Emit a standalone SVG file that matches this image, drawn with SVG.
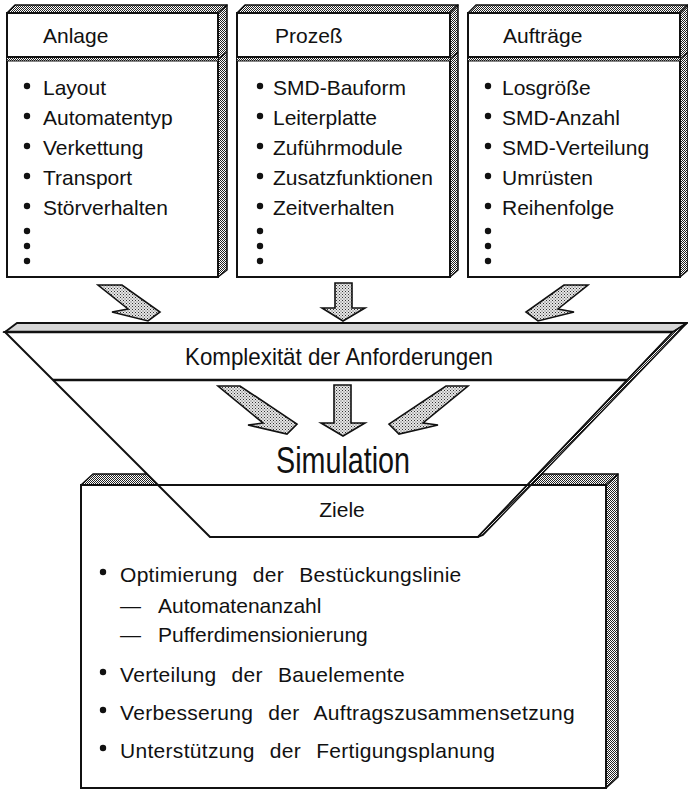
<svg xmlns="http://www.w3.org/2000/svg" width="688" height="790" viewBox="0 0 688 790">
<defs>
  <!-- dark halftone for the 3D side and top faces -->
  <pattern id="halftone" width="2" height="2" patternUnits="userSpaceOnUse">
    <rect width="2" height="2" fill="#fff"/>
    <rect width="1" height="1" fill="#222"/>
    <rect x="1" y="1" width="1" height="1" fill="#222"/>
  </pattern>
  <!-- light stipple for the block arrows -->
  <pattern id="stipple" width="3" height="3" patternUnits="userSpaceOnUse">
    <rect width="3" height="3" fill="#e6e6e6"/>
    <rect width="1" height="1" fill="#333"/>
    <rect x="1.5" y="1.5" width="1" height="1" fill="#555"/>
  </pattern>
</defs>
<style>
  text { font-family: "Liberation Sans", Arial, sans-serif; fill: #111; }
  .t { font-size: 21px; }
  .ws { word-spacing: 9px; letter-spacing: 0.3px; }
  .face { fill: #fff; stroke: #111; stroke-width: 2; }
  .shade { fill: url(#halftone); stroke: #111; stroke-width: 1.5; stroke-linejoin: round; }
  .arrow { fill: url(#stipple); stroke: #111; stroke-width: 1.6; stroke-linejoin: miter; }
  .bul { fill: #111; }
  line { stroke: #111; }
</style>

<!-- Box: Anlage -->
<g id="anlage">
  <polygon class="shade" points="7,13 15,5 227,5 218,13"/>
  <polygon class="shade" points="218,13 227,5 227,270 218,277"/>
  <rect class="face" x="7" y="13" width="211" height="264"/>
  <rect x="7" y="57" width="211" height="4" fill="url(#halftone)"/>
  <line x1="7" y1="57" x2="218" y2="57" stroke-width="2"/>
  <line x1="7" y1="61" x2="218" y2="61" stroke-width="1.2"/>
  <line x1="218" y1="59" x2="227" y2="52" stroke-width="1.2"/>
  <text class="t" x="43" y="43">Anlage</text>
  <circle class="bul" cx="27" cy="86" r="3.2"/><text class="t" x="43" y="95">Layout</text>
  <circle class="bul" cx="27" cy="116" r="3.2"/><text class="t" x="43" y="125">Automatentyp</text>
  <circle class="bul" cx="27" cy="146" r="3.2"/><text class="t" x="43" y="155">Verkettung</text>
  <circle class="bul" cx="27" cy="176" r="3.2"/><text class="t" x="43" y="185">Transport</text>
  <circle class="bul" cx="27" cy="206" r="3.2"/><text class="t" x="43" y="215">Störverhalten</text>
  <circle class="bul" cx="27" cy="231" r="3.2"/>
  <circle class="bul" cx="27" cy="246" r="3.2"/>
  <circle class="bul" cx="27" cy="261" r="3.2"/>
</g>

<!-- Box: Prozeß -->
<g id="prozess">
  <polygon class="shade" points="237,13 245,5 458,5 450,13"/>
  <polygon class="shade" points="450,13 458,5 458,270 450,277"/>
  <rect class="face" x="237" y="13" width="213" height="264"/>
  <rect x="237" y="57" width="213" height="4" fill="url(#halftone)"/>
  <line x1="237" y1="57" x2="450" y2="57" stroke-width="2"/>
  <line x1="237" y1="61" x2="450" y2="61" stroke-width="1.2"/>
  <line x1="450" y1="59" x2="458" y2="52" stroke-width="1.2"/>
  <text class="t" x="275" y="43">Prozeß</text>
  <circle class="bul" cx="260" cy="86" r="3.2"/><text class="t" x="273" y="95">SMD-Bauform</text>
  <circle class="bul" cx="260" cy="116" r="3.2"/><text class="t" x="273" y="125">Leiterplatte</text>
  <circle class="bul" cx="260" cy="146" r="3.2"/><text class="t" x="273" y="155">Zuführmodule</text>
  <circle class="bul" cx="260" cy="176" r="3.2"/><text class="t" x="273" y="185">Zusatzfunktionen</text>
  <circle class="bul" cx="260" cy="206" r="3.2"/><text class="t" x="273" y="215">Zeitverhalten</text>
  <circle class="bul" cx="260" cy="231" r="3.2"/>
  <circle class="bul" cx="260" cy="246" r="3.2"/>
  <circle class="bul" cx="260" cy="261" r="3.2"/>
</g>

<!-- Box: Aufträge -->
<g id="auftraege">
  <polygon class="shade" points="468,13 476,5 688,5 680,13"/>
  <polygon class="shade" points="680,13 688,5 688,270 680,277"/>
  <rect class="face" x="468" y="13" width="212" height="264"/>
  <rect x="468" y="57" width="212" height="4" fill="url(#halftone)"/>
  <line x1="468" y1="57" x2="680" y2="57" stroke-width="2"/>
  <line x1="468" y1="61" x2="680" y2="61" stroke-width="1.2"/>
  <line x1="680" y1="59" x2="688" y2="52" stroke-width="1.2"/>
  <text class="t" x="503" y="43">Aufträge</text>
  <circle class="bul" cx="488" cy="86" r="3.2"/><text class="t" x="502" y="95">Losgröße</text>
  <circle class="bul" cx="488" cy="116" r="3.2"/><text class="t" x="502" y="125">SMD-Anzahl</text>
  <circle class="bul" cx="488" cy="146" r="3.2"/><text class="t" x="502" y="155">SMD-Verteilung</text>
  <circle class="bul" cx="488" cy="176" r="3.2"/><text class="t" x="502" y="185">Umrüsten</text>
  <circle class="bul" cx="488" cy="206" r="3.2"/><text class="t" x="502" y="215">Reihenfolge</text>
  <circle class="bul" cx="488" cy="231" r="3.2"/>
  <circle class="bul" cx="488" cy="246" r="3.2"/>
  <circle class="bul" cx="488" cy="261" r="3.2"/>
</g>

<!-- Box: Ziele (lies behind the funnel) -->
<g id="ziele">
  <polygon class="shade" points="81,485 93,474 618,474 606,485"/>
  <polygon class="shade" points="606,485 618,474 618,777 606,788"/>
  <rect class="face" x="81" y="485" width="525" height="303"/>
  <circle class="bul" cx="103" cy="572" r="3.2"/>
  <text class="t ws" x="120" y="582">Optimierung der Bestückungslinie</text>
  <text class="t" y="613"><tspan x="120">—</tspan><tspan x="158">Automatenanzahl</tspan></text>
  <text class="t" y="642"><tspan x="120">—</tspan><tspan x="158">Pufferdimensionierung</tspan></text>
  <circle class="bul" cx="103" cy="672" r="3.2"/>
  <text class="t ws" x="120" y="682">Verteilung der Bauelemente</text>
  <circle class="bul" cx="103" cy="710" r="3.2"/>
  <text class="t ws" x="120" y="720">Verbesserung der Auftragszusammensetzung</text>
  <circle class="bul" cx="103" cy="748" r="3.2"/>
  <text class="t ws" x="120" y="758">Unterstützung der Fertigungsplanung</text>
</g>

<!-- Funnel: Komplexität der Anforderungen -> Simulation -> Ziele -->
<g id="trichter">
  <polygon points="5,332 673,332 478,537 210,537" fill="#fff" stroke="#111" stroke-width="2" stroke-linejoin="miter"/>
  <polygon points="5,332 17,323 687,323 673,332" fill="#d6d6d6" stroke="#111" stroke-width="1.8"/>
  <line x1="5" y1="332" x2="673" y2="332" stroke-width="2.6"/>
  <polygon points="673,332 687,323 483,535 478,537" fill="url(#halftone)" stroke="#111" stroke-width="1.5"/>
  <line x1="53" y1="380" x2="627" y2="380" stroke-width="2.6"/>
  <line x1="158" y1="485" x2="533" y2="485" stroke-width="2"/>
  <text x="339" y="365" font-size="24" text-anchor="middle" textLength="308" lengthAdjust="spacingAndGlyphs">Komplexität der Anforderungen</text>
  <text x="343" y="473" font-size="36" text-anchor="middle" textLength="134" lengthAdjust="spacingAndGlyphs">Simulation</text>
  <text class="t" x="342" y="517" text-anchor="middle">Ziele</text>
</g>

<!-- Block arrows -->
<g id="connectors">
  <polygon class="arrow" points="98,285 122,285 160,312 148,321 112,312 128,309"/>
  <polygon class="arrow" points="335,283 352,283 352,308 365,308 343,321 322,308 335,308"/>
  <polygon class="arrow" points="588,285 564,285 526,312 538,321 574,312 558,309"/>
  <polygon class="arrow" points="218,386 240,386 297,424 287,434 248,425 263,423"/>
  <polygon class="arrow" points="334,385 351,385 351,423 365,423 343,436 321,423 334,423"/>
  <polygon class="arrow" points="468,386 446,386 389,424 399,434 438,425 423,423"/>
</g>
</svg>
